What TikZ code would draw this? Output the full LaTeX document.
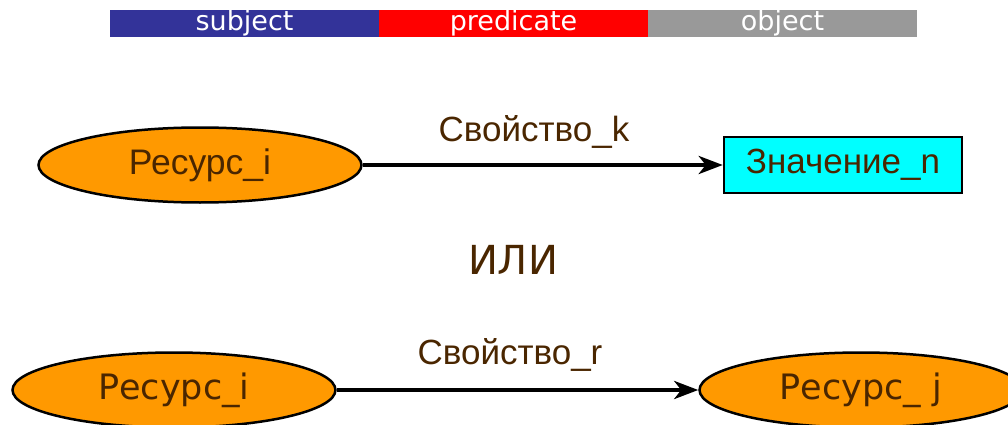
\documentclass[tikz,border=0pt]{standalone}
\usepackage{fontspec}
\setmainfont{Liberation Sans}
\newfontfamily\dejavu{DejaVu Sans}
\usetikzlibrary{shapes.geometric,arrows.meta}
\definecolor{barblue}{HTML}{333399}
\definecolor{barred}{HTML}{FF0000}
\definecolor{bargray}{HTML}{999999}
\definecolor{orangefill}{HTML}{FF9900}
\definecolor{cyanfill}{HTML}{00FFFF}
\definecolor{txtbrown}{HTML}{4A2600}
\tikzset{
  barseg/.style={minimum width=269pt,minimum height=27pt,inner sep=0pt,text=white,font=\dejavu\fontsize{27}{27}\selectfont},
  resource/.style={ellipse,draw=black,line width=2.5pt,fill=orangefill,inner sep=0pt,minimum width=323pt,minimum height=75pt,text=txtbrown},
  valuebox/.style={rectangle,draw=black,line width=2.5pt,fill=cyanfill,minimum width=238pt,minimum height=56pt,inner sep=0pt,text=txtbrown,font=\fontsize{35}{35}\selectfont},
  proplabel/.style={text=txtbrown,font=\fontsize{35}{35}\selectfont,inner sep=0pt},
  rel/.style={line width=4.5pt,-{Stealth[length=24pt,width=18pt,inset=7pt]}}
}
\begin{document}
\begin{tikzpicture}[x=1pt,y=-1pt]
\useasboundingbox (0,0) rectangle (1008,425);
% top bar
\node[barseg,fill=barblue] (subj) at (244.5,23.5) {subject};
\node[barseg,fill=barred] (pred) at (513.5,23.5) {predicate};
\node[barseg,fill=bargray] (obj) at (782.5,23.5) {object};
% first triple
\node[resource,font=\fontsize{35.5}{35.5}\selectfont] (r1) at (200,165) {Ресурс\_i};
\node[valuebox] (v1) at (843,165) {Значение\_n};
\draw[rel] (r1) -- (v1);
\node[proplabel] (p1) at (534,132) {Свойство\_k};
% or
\node[text=txtbrown,font=\dejavu\fontsize{40}{40}\selectfont,inner sep=0pt] (or) at (513,260) {ИЛИ};
% second triple
\node[resource,font=\dejavu\fontsize{35}{35}\selectfont] (r2) at (174,390) {Ресурс\_i};
\node[resource,font=\dejavu\fontsize{35}{35}\selectfont] (r3) at (861,390) {Ресурс\_ j};
\draw[rel] (r2) -- (r3);
\node[proplabel] (p2) at (510,355) {Свойство\_r};
\end{tikzpicture}
\end{document}
